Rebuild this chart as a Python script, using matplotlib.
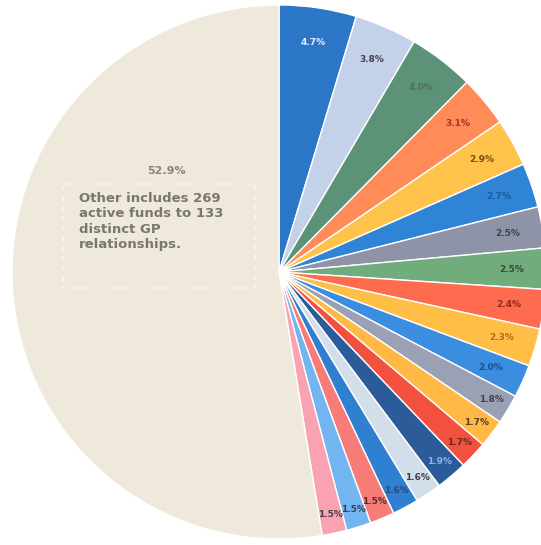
import numpy as np
import matplotlib
matplotlib.use("Agg")
import matplotlib.pyplot as plt
from matplotlib.patches import Rectangle

# ---- data ----
labels_pct = ["4.7%", "3.8%", "4.0%", "3.1%", "2.9%", "2.7%", "2.5%", "2.5%", "2.4%", "2.3%",
              "2.0%", "1.8%", "1.7%", "1.7%", "1.9%", "1.6%", "1.6%", "1.5%", "1.5%", "1.5%",
              "52.9%"]
values = [4.7, 3.8, 4.0, 3.1, 2.9, 2.7, 2.5, 2.5, 2.4, 2.3,
          2.0, 1.8, 1.7, 1.7, 1.9, 1.6, 1.6, 1.5, 1.5, 1.5,
          52.9]
other_note = "Other includes 269\nactive funds to 133\ndistinct GP\nrelationships."

colors = ["#2b76c6", "#c3d2e8", "#5c9277", "#ff8b58", "#ffc24a", "#2f84d6", "#8e93a8",
          "#71ac7c", "#ff6b4e", "#ffbf47", "#3a8ddf", "#9ba1b5", "#ffb944", "#f2513f",
          "#2b5b98", "#d3deeb", "#2f80d0", "#f77c78", "#72b5f0", "#f8a2b2", "#efe9dc"]
label_colors = ["#e8eef8", "#4a4050", "#50705e", "#9a3a20", "#7a4a20", "#1f5a9a", "#404048",
                "#2f4a35", "#8a2a20", "#b06a20", "#1f4e8a", "#404048", "#5a3a20", "#6a2a20",
                "#8ab8e8", "#404048", "#2a4a7a", "#5a2a30", "#304060", "#404048", "#8a8478"]

fig = plt.figure(figsize=(5.41, 5.45), dpi=100)
R = 267
ax = fig.add_axes([12 / 541, 6 / 545, 2 * R / 541, 2 * R / 545])

wedges, _ = ax.pie(values, colors=colors, startangle=90, counterclock=False, radius=1.0,
                   wedgeprops=dict(edgecolor="white", linewidth=1.0))
ax.set_xlim(-1, 1)
ax.set_ylim(-1, 1)
ax.set_aspect("equal")
ax.axis("off")

n = len(values)
for i, w in enumerate(wedges):
    ang = np.deg2rad((w.theta1 + w.theta2) / 2)
    if i == n - 1:
        ax.text(-0.42, 0.38, labels_pct[i], ha="center", va="center", fontsize=8,
                fontweight="bold", color="#8a8478")
        continue
    r = 0.87 if values[i] >= 2.0 else 0.93
    ax.text(r * np.cos(ang), r * np.sin(ang), labels_pct[i], ha="center", va="center",
            fontsize=6.5, fontweight="bold", color=label_colors[i])

ax.text(-0.75, 0.30, other_note, ha="left", va="top", fontsize=9.5, fontweight="bold",
        color="#7a7670", linespacing=1.25, family="DejaVu Sans")
ax.add_patch(Rectangle((-0.81, -0.06), 0.72, 0.39, fill=False, edgecolor="#f8f5f0",
                       linestyle=(0, (3, 3)), linewidth=1.2))

fig.savefig("out.png", dpi=100)
